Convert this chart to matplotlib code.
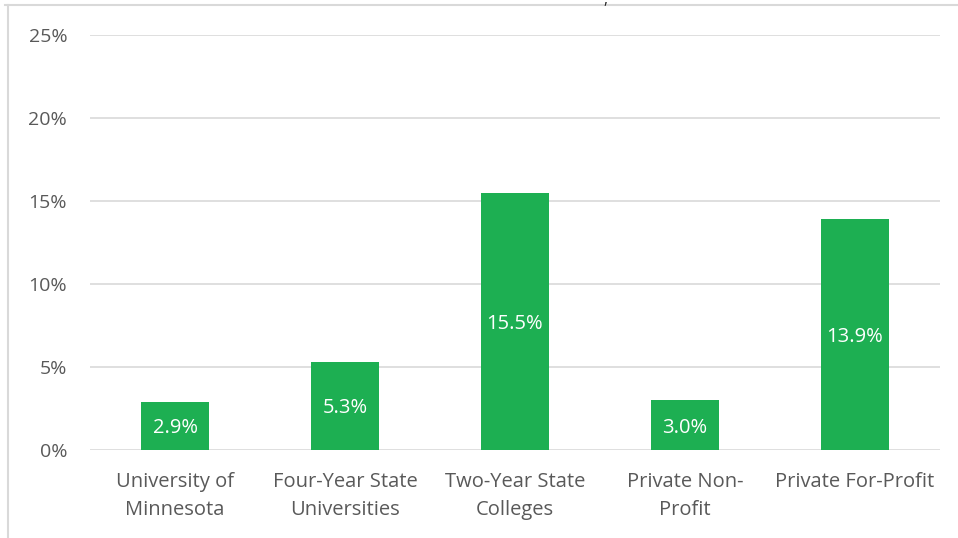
import matplotlib
matplotlib.use("Agg")
import matplotlib.pyplot as plt
from matplotlib.lines import Line2D
from matplotlib.ticker import FuncFormatter

categories = ["University of\nMinnesota", "Four-Year State\nUniversities",
              "Two-Year State\nColleges", "Private Non-\nProfit",
              "Private For-Profit"]
values = [2.9, 5.3, 15.5, 3.0, 13.9]
yticks = [0, 5, 10, 15, 20, 25]

GREEN = "#1daf52"
GRID = "#d9d9d9"
TEXT = "#595959"

plt.rcParams["font.family"] = ["Open Sans", "DejaVu Sans"]

fig = plt.figure(figsize=(9.58, 5.38), dpi=100)
ax = fig.add_axes([0.094, 0.1636, 0.887, 0.7714])

x = range(len(categories))
bars = ax.bar(x, values, width=0.4, color=GREEN, zorder=3)
for b, v in zip(bars, values):
    ax.text(b.get_x() + b.get_width() / 2, v / 2, f"{v:.1f}%",
            ha="center", va="center_baseline", color="white",
            fontsize=14.5, zorder=4)

ax.set_xlim(-0.5, len(categories) - 0.5)
ax.set_ylim(0, 25)
ax.set_yticks(yticks)
ax.yaxis.set_major_formatter(FuncFormatter(lambda v, p: f"{v:.0f}%"))
ax.set_xticks(list(x))
ax.set_xticklabels(categories)
ax.grid(axis="y", color=GRID, linewidth=1.2, zorder=0)
for s in ax.spines.values():
    s.set_visible(False)
ax.tick_params(axis="both", length=0, colors=TEXT)
ax.tick_params(axis="y", pad=16.5, labelsize=14)
ax.tick_params(axis="x", pad=15.5, labelsize=14.5)
for lbl in ax.get_xticklabels():
    lbl.set_linespacing(1.55)

# outer chart frame (top and left edges visible)
fig.add_artist(Line2D([5 / 958, 1], [1 - 5 / 538, 1 - 5 / 538],
                      transform=fig.transFigure, color=GRID, linewidth=1.5))
fig.add_artist(Line2D([8 / 958, 8 / 958], [0, 1 - 5 / 538],
                      transform=fig.transFigure, color=GRID, linewidth=1.5))
fig.text(605 / 958, 1.0, ",", ha="center", va="center", fontsize=11,
         color="#222222")

fig.savefig("out.png", dpi=100)
